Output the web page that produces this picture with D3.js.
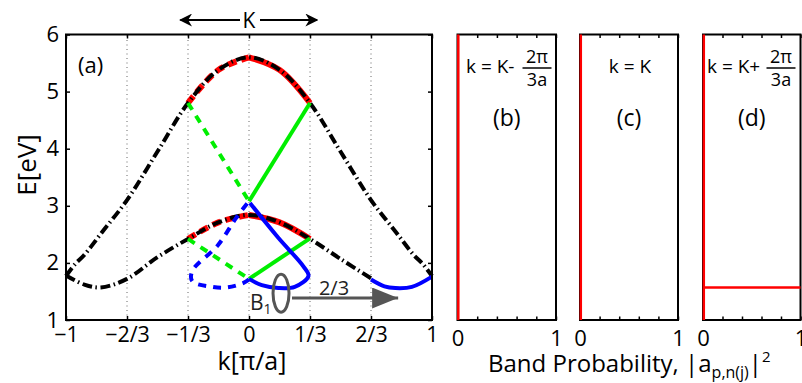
<!doctype html>
<html>
<head>
<meta charset="utf-8">
<title>Band structure</title>
<style>
  body { margin: 0; background: #fff; }
  svg { display: block; font-family: "Open Sans", sans-serif; }
</style>
</head>
<body>
<script src="https://d3js.org/d3.v7.min.js"></script>
<script>
// values
// black dash-dot bands, k in units of pi/a, E in eV
const upperK = [-1, -0.95, -0.9, -0.8, -2/3, -0.5, -1/3, -0.167, 0, 0.167, 1/3, 0.5, 2/3, 0.8, 0.9, 0.95, 1];
const upperE = [1.77, 1.98, 2.14, 2.55, 3.1, 3.95, 4.8, 5.38, 5.6, 5.38, 4.8, 3.95, 3.1, 2.55, 2.14, 1.98, 1.77];
const lowerK = [-1, -0.9, -0.81, -2/3, -0.5, -1/3, -0.167, 0, 0.167, 1/3, 0.5, 2/3];
const lowerE = [1.78, 1.62, 1.57, 1.72, 2.1, 2.42, 2.71, 2.84, 2.71, 2.42, 2.07, 1.73];

// red: parts of the bands around K
const redTopK = [-1/3, -0.167, 0, 0.167, 1/3];
const redTopE = [4.8, 5.38, 5.6, 5.38, 4.8];
const redLowK = [-1/3, -0.167, 0, 0.167, 1/3];
const redLowE = [2.42, 2.71, 2.84, 2.71, 2.42];

// green straight pieces
const greenLeft = [[[-1/3, 4.8], [0, 3.08]], [[-1/3, 2.42], [0, 1.72]]];
const greenRight = [[[0, 3.08], [1/3, 4.8]], [[0, 1.72], [1/3, 2.43]]];

// blue B1 band, left (dashed), right (solid) and shifted by 2/3
const blueLeftK = [-0.01, -0.07, -0.17, -0.31, -0.31, -0.2, -0.12, -0.03, 0];
const blueLeftE = [3.04, 2.79, 2.31, 1.86, 1.68, 1.58, 1.57, 1.65, 1.71];
const blueRightK = [0, 0.07, 0.16, 0.25, 0.325, 0.297, 0.16, 0.005];
const blueRightE = [1.72, 1.61, 1.56, 1.58, 1.77, 1.94, 2.44, 3.05];
const blueShiftK = [2/3, 0.74, 0.8, 0.89, 1];
const blueShiftE = [1.71, 1.59, 1.56, 1.58, 1.76];

// axes
const kTicks = [-1, -2/3, -1/3, 0, 1/3, 2/3, 1];
const kTickLabels = ["\u22121", "\u22122/3", "\u22121/3", "0", "1/3", "2/3", "1"];
const kGrid = [-2/3, -1/3, 0, 1/3, 2/3];
const eTicks = [1, 2, 3, 4, 5, 6];

// band probability panels
const panelNames = ["(b)", "(c)", "(d)"];
const probTicks = [0, 0.2, 0.4, 0.6, 0.8, 1];
const probB = [[[0, 1], [0, 6]]];
const probC = [[[0, 1], [0, 6]]];
const probD = [[[0, 1], [0, 6]], [[0, 1.57], [1, 1.57]]];

var W = 802, H = 383;
var svg = d3.select("body").append("svg").attr("width", W).attr("height", H);

var x = d3.scaleLinear().domain([-1, 1]).range([66, 432]);
var y = d3.scaleLinear().domain([1, 6]).range([320, 34.5]);

var line = d3.line()
  .x(function(d) { return x(d[0]); })
  .y(function(d) { return y(d[1]); })
  .curve(d3.curveCatmullRom.alpha(0.5));
var straight = d3.line()
  .x(function(d) { return x(d[0]); })
  .y(function(d) { return y(d[1]); });

// dotted grid
svg.selectAll(".grid").data(kGrid).enter().append("line")
  .attr("x1", function(d) { return x(d); }).attr("x2", function(d) { return x(d); })
  .attr("y1", y(1)).attr("y2", y(6))
  .attr("stroke", "#666").attr("stroke-width", 1).attr("stroke-dasharray", "1,3.5");

function band(pts, color, w, dash) {
  svg.append("path").attr("d", line(pts))
    .attr("fill", "none").attr("stroke", color).attr("stroke-width", w)
    .attr("stroke-dasharray", dash || null);
}

// red under black
band(d3.zip(redTopK, redTopE).filter(function(d) { return d[0] <= 0; }), "red", 6, "9,5");
band(d3.zip(redTopK, redTopE).filter(function(d) { return d[0] >= 0; }), "red", 6);
band(d3.zip(redLowK, redLowE).filter(function(d) { return d[0] <= 0; }), "red", 6, "9,5");
band(d3.zip(redLowK, redLowE).filter(function(d) { return d[0] >= 0; }), "red", 6);

// black dash-dot bands
band(d3.zip(upperK, upperE), "#000", 4, "10,3.5,1.5,3.5");
band(d3.zip(lowerK, lowerE), "#000", 4, "10,3.5,1.5,3.5");

// green
greenLeft.forEach(function(s) {
  svg.append("path").attr("d", straight(s)).attr("fill", "none")
    .attr("stroke", "#00ee00").attr("stroke-width", 4).attr("stroke-dasharray", "8,7");
});
greenRight.forEach(function(s) {
  svg.append("path").attr("d", straight(s)).attr("fill", "none")
    .attr("stroke", "#00ee00").attr("stroke-width", 4);
});

// blue
band(d3.zip(blueLeftK, blueLeftE), "#0000ff", 4, "8,7");
band(d3.zip(blueRightK, blueRightE), "#0000ff", 4);
band(d3.zip(blueShiftK, blueShiftE), "#0000ff", 4);

// frame + ticks
svg.append("rect").attr("x", x(-1)).attr("y", y(6))
  .attr("width", x(1) - x(-1)).attr("height", y(1) - y(6))
  .attr("fill", "none").attr("stroke", "#000").attr("stroke-width", 2);

function styleAxis(g, size) {
  g.select(".domain").remove();
  g.selectAll("line").attr("stroke", "#000").attr("stroke-width", 1.5);
  g.attr("font-family", "Open Sans, sans-serif").attr("font-size", size);
  g.selectAll("text").attr("fill", "#000");
}
svg.append("g").attr("transform", "translate(0," + y(1) + ")")
  .call(d3.axisBottom(x).tickValues(kTicks)
    .tickFormat(function(d, i) { return kTickLabels[i]; })
    .tickSizeInner(-4).tickSizeOuter(0).tickPadding(7))
  .call(styleAxis, 21.5);
svg.append("g").attr("transform", "translate(0," + y(6) + ")")
  .call(d3.axisTop(x).tickValues(kTicks).tickFormat("").tickSizeInner(-4).tickSizeOuter(0))
  .call(styleAxis, 21);
svg.append("g").attr("transform", "translate(" + x(-1) + ",0)")
  .call(d3.axisLeft(y).tickValues(eTicks).tickFormat(d3.format("d"))
    .tickSizeInner(-4).tickSizeOuter(0).tickPadding(7))
  .call(styleAxis, 22);
svg.append("g").attr("transform", "translate(" + x(1) + ",0)")
  .call(d3.axisRight(y).tickValues(eTicks).tickFormat("").tickSizeInner(-4).tickSizeOuter(0))
  .call(styleAxis, 21);

// labels of panel (a)
svg.append("text").attr("x", 78).attr("y", 73).attr("font-size", 22).text("(a)");
svg.append("text").attr("transform", "translate(36,165) rotate(-90)")
  .attr("text-anchor", "middle").attr("font-size", 26).text("E[eV]");
svg.append("text").attr("x", 252).attr("y", 370)
  .attr("text-anchor", "middle").attr("font-size", 25).text("k[\u03c0/a]");

// K arrows at the top
var defs = svg.append("defs");
defs.append("marker").attr("id", "hk").attr("viewBox", "0 0 10 10")
  .attr("refX", 9).attr("refY", 5).attr("markerWidth", 13).attr("markerHeight", 13)
  .attr("markerUnits", "userSpaceOnUse").attr("orient", "auto")
  .append("path").attr("d", "M0,0 L10,5 L0,10 L3,5 Z").attr("fill", "#000");
svg.append("line").attr("x1", 240).attr("x2", x(-0.375)).attr("y1", 20).attr("y2", 20)
  .attr("stroke", "#000").attr("stroke-width", 2).attr("marker-end", "url(#hk)");
svg.append("line").attr("x1", 260).attr("x2", x(0.372)).attr("y1", 20).attr("y2", 20)
  .attr("stroke", "#000").attr("stroke-width", 2).attr("marker-end", "url(#hk)");
svg.append("text").attr("x", x(0)).attr("y", 28).attr("text-anchor", "middle")
  .attr("font-size", 21).text("K");

// B1 ellipse and shift arrow
svg.append("ellipse").attr("cx", x(0.175)).attr("cy", y(1.47)).attr("rx", 8).attr("ry", 19)
  .attr("fill", "none").attr("stroke", "#555").attr("stroke-width", 3);
defs.append("marker").attr("id", "hg").attr("viewBox", "0 0 10 10")
  .attr("refX", 10).attr("refY", 5).attr("markerWidth", 26).attr("markerHeight", 21)
  .attr("markerUnits", "userSpaceOnUse").attr("orient", "auto").attr("preserveAspectRatio", "none")
  .append("path").attr("d", "M0,0 L10,5 L0,10 Z").attr("fill", "#555");
svg.append("line").attr("x1", x(0.235)).attr("x2", x(0.815)).attr("y1", y(1.385)).attr("y2", y(1.385))
  .attr("stroke", "#555").attr("stroke-width", 3).attr("marker-end", "url(#hg)");
var b1 = svg.append("text").attr("x", 250).attr("y", 310).attr("font-size", 21).attr("fill", "#222");
b1.append("tspan").text("B");
b1.append("tspan").attr("font-size", 14).attr("dy", 4).text("1");
svg.append("text").attr("x", 334).attr("y", 295).attr("text-anchor", "middle")
  .attr("font-size", 20).attr("fill", "#222").text("2/3");

// band probability panels
var panelX = [[457.5, 556], [580, 678], [703, 800.5]];
var panelData = [probB, probC, probD];

panelX.forEach(function(r, i) {
  var px = d3.scaleLinear().domain([0, 1]).range(r);
  var g = svg.append("g");
  g.append("rect").attr("x", r[0]).attr("y", y(6)).attr("width", r[1] - r[0]).attr("height", y(1) - y(6))
    .attr("fill", "none").attr("stroke", "#000").attr("stroke-width", 2);
  g.append("g").attr("transform", "translate(0," + y(1) + ")")
    .call(d3.axisBottom(px).tickValues(probTicks)
      .tickFormat(function(d) { return (d === 0 || d === 1) ? d : ""; })
      .tickSizeInner(-3.5).tickSizeOuter(0).tickPadding(10))
    .call(styleAxis, 22);
  g.append("g").attr("transform", "translate(0," + y(6) + ")")
    .call(d3.axisTop(px).tickValues(probTicks).tickFormat("").tickSizeInner(-3.5).tickSizeOuter(0))
    .call(styleAxis, 22);
  var pl = d3.line().x(function(d) { return px(d[0]) + (d[0] === 0 && d[1] !== 1.57 ? 0.8 : 0); })
    .y(function(d) { return y(d[1]); });
  panelData[i].forEach(function(s) {
    g.append("path").attr("d", pl(s)).attr("fill", "none")
      .attr("stroke", "red").attr("stroke-width", 2.5);
  });
  g.append("text").attr("x", (r[0] + r[1]) / 2).attr("y", 126).attr("text-anchor", "middle")
    .attr("font-size", 23).text(panelNames[i]);
});

// k labels in panels
function kLabel(x0, sign) {
  svg.append("text").attr("x", x0).attr("y", 73).attr("font-size", 19).text("k = K" + sign);
  var fx = x0 + (sign === "-" ? 71 : 74);
  svg.append("text").attr("x", fx).attr("y", 63).attr("text-anchor", "middle")
    .attr("font-size", 18).text("2\u03c0");
  svg.append("line").attr("x1", fx - 14.5).attr("x2", fx + 14.5).attr("y1", 68).attr("y2", 68)
    .attr("stroke", "#000").attr("stroke-width", 1.5);
  svg.append("text").attr("x", fx).attr("y", 86).attr("text-anchor", "middle")
    .attr("font-size", 18).text("3a");
}
kLabel(466, "-");
svg.append("text").attr("x", 630).attr("y", 73).attr("text-anchor", "middle")
  .attr("font-size", 19).text("k = K");
kLabel(707, "+");

// common x label
var bp = svg.append("text").attr("x", 488).attr("y", 372).attr("font-size", 24);
bp.append("tspan").text("Band Probability, |a");
bp.append("tspan").attr("font-size", 16).attr("dy", 6).text("p,n(j)");
bp.append("tspan").attr("dy", -6).text("|");
bp.append("tspan").attr("font-size", 15).attr("dy", -10).text("2");
</script>
</body>
</html>
